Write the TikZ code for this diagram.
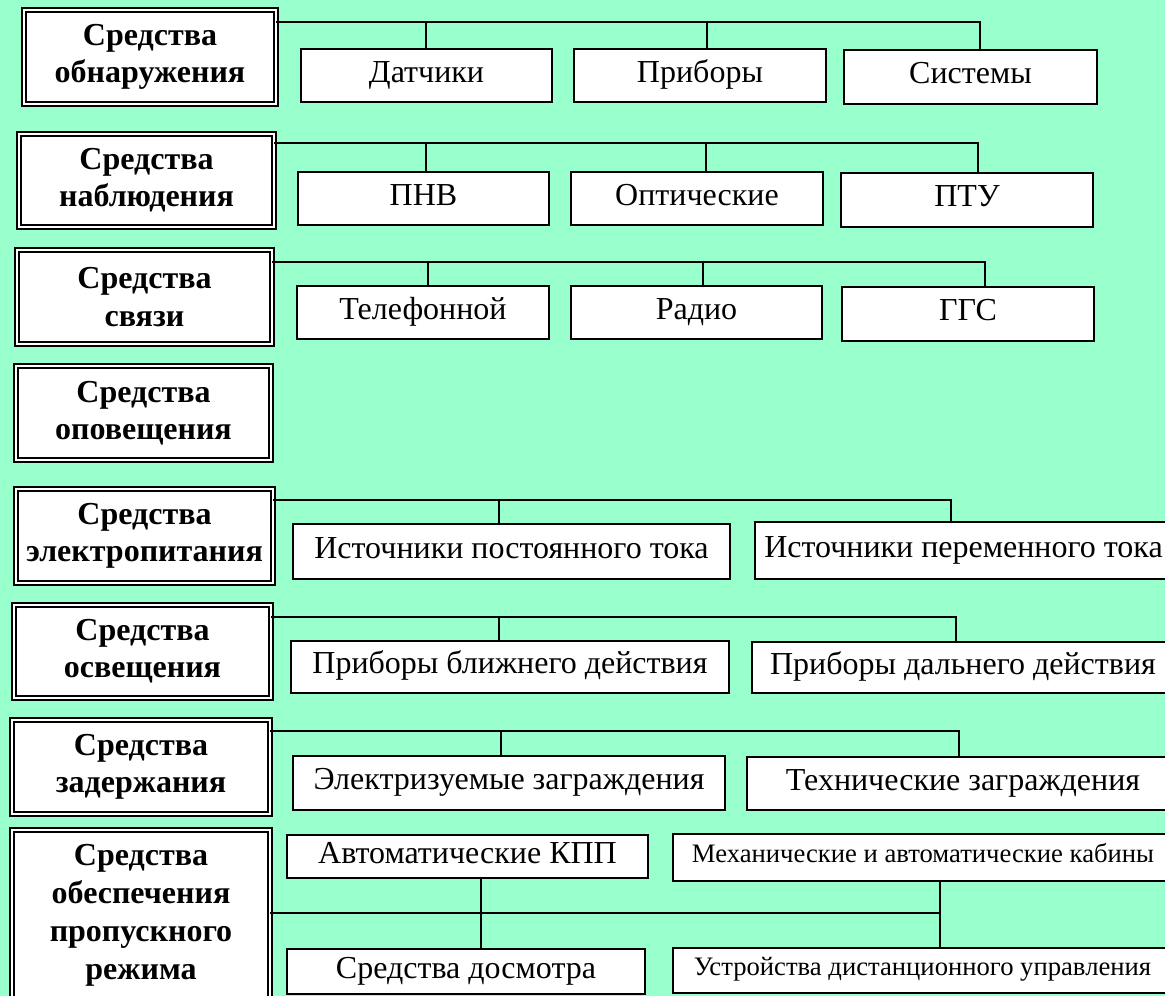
\documentclass[tikz,border=0pt]{standalone}
\usepackage{fontspec}
\setmainfont{Liberation Serif}
\definecolor{mint}{RGB}{153,255,204}
\begin{document}
\begin{tikzpicture}[x=0.75pt,y=-0.75pt,
  corners/.style n args={4}{minimum width={(#3-#1)*0.75pt}, minimum height={(#4-#2)*0.75pt},
    at={({(#1+#3)/2},{(#2+#4)/2})}},
  lbox/.style={draw, line width=1.5pt, double=white, double distance=1.5pt, fill=white,
    inner sep=0pt, outer sep=0pt, align=center,
    font=\bfseries\fontsize{24}{28}\selectfont},
  cbox/.style={draw, line width=1.5pt, fill=white, inner sep=0pt, outer sep=0pt,
    text height=16pt, text depth=6pt, font=\fontsize{24}{28}\selectfont},
  sbox/.style={cbox, text height=13pt, text depth=5pt, font=\fontsize{20}{24}\selectfont},
  wire/.style={line width=1pt}]
\useasboundingbox (0,0) rectangle (1165,996);
\clip (0,0) rectangle (1165,996);
\fill[mint] (0,0) rectangle (1165,996);

% left category boxes
\node[lbox, corners={24}{10}{276}{104}] (b1) {Средства\\обнаружения};
\node[lbox, corners={19}{134}{274}{227}] (b2) {Средства\\наблюдения};
\node[lbox, corners={17}{250}{272}{344}] (b3) {Средства\\связи};
\node[lbox, corners={16}{366}{271}{460}] (b4) {Средства\\оповещения};
\node[lbox, corners={16}{489}{273}{583}] (b5) {Средства\\электропитания};
\node[lbox, corners={14}{605}{271}{698}] (b6) {Средства\\освещения};
\node[lbox, corners={12}{720}{270}{814}] (b7) {Средства\\задержания};
\node[lbox, corners={12}{830}{270}{1000}, font=\bfseries\fontsize{24}{28.5}\selectfont] (b8)
  {Средства\\обеспечения\\пропускного\\режима};

% child boxes
\node[cbox, corners={301}{49}{552}{102}] (c11) {Датчики};
\node[cbox, corners={574}{49}{826}{102}] (c12) {Приборы};
\node[cbox, corners={844}{50}{1097}{104}] (c13) {Системы};

\node[cbox, corners={298}{172}{549}{225}] (c21) {ПНВ};
\node[cbox, corners={571}{172}{823}{225}] (c22) {Оптические};
\node[cbox, corners={841}{173}{1093}{227}] (c23) {ПТУ};

\node[cbox, corners={297}{286}{549}{339}] (c31) {Телефонной};
\node[cbox, corners={571}{286}{822}{339}] (c32) {Радио};
\node[cbox, corners={842}{287}{1094}{341}] (c33) {ГГС};

\node[cbox, corners={293}{524}{730}{579}] (c51) {Источники постоянного тока};
\node[cbox, corners={755}{522}{1172}{579}] (c52) {Источники переменного тока};

\node[cbox, corners={291}{641}{729}{693}] (c61) {Приборы ближнего действия};
\node[cbox, corners={752}{642}{1174}{693}] (c62) {Приборы дальнего действия};

\node[cbox, corners={293}{756}{725}{810}] (c71) {Электризуемые заграждения};
\node[cbox, corners={747}{757}{1179}{810}] (c72) {Технические заграждения};

\node[cbox, corners={287}{835}{648}{878}] (c81) {Автоматические КПП};
\node[sbox, corners={673}{834}{1173}{881}] (c82) {Механические и автоматические кабины};
\node[cbox, corners={287}{949}{645}{994}] (c83) {Средства досмотра};
\node[sbox, corners={673}{948}{1172}{993}] (c84) {Устройства дистанционного управления};

% bus coordinates
\coordinate (h1) at (980,22);  \coordinate (d11) at (426,22);  \coordinate (d12) at (707,22);
\coordinate (h2) at (978,143); \coordinate (d21) at (426,143); \coordinate (d22) at (706,143);
\coordinate (h3) at (985,262); \coordinate (d31) at (428,262); \coordinate (d32) at (703,262);
\coordinate (h5) at (951,500); \coordinate (d51) at (499,500);
\coordinate (h6) at (956,617); \coordinate (d61) at (499,617);
\coordinate (h7) at (959,731); \coordinate (d71) at (501,731);
\coordinate (h8) at (940,913); \coordinate (v81) at (481,913);

% connectors
\draw[wire] (b1.east |- h1) -- (h1) -- (h1 |- c13.north);
\draw[wire] (d11) -- (d11 |- c11.north);
\draw[wire] (d12) -- (d12 |- c12.north);

\draw[wire] (b2.east |- h2) -- (h2) -- (h2 |- c23.north);
\draw[wire] (d21) -- (d21 |- c21.north);
\draw[wire] (d22) -- (d22 |- c22.north);

\draw[wire] (b3.east |- h3) -- (h3) -- (h3 |- c33.north);
\draw[wire] (d31) -- (d31 |- c31.north);
\draw[wire] (d32) -- (d32 |- c32.north);

\draw[wire] (b5.east |- h5) -- (h5) -- (h5 |- c52.north);
\draw[wire] (d51) -- (d51 |- c51.north);

\draw[wire] (b6.east |- h6) -- (h6) -- (h6 |- c62.north);
\draw[wire] (d61) -- (d61 |- c61.north);

\draw[wire] (b7.east |- h7) -- (h7) -- (h7 |- c72.north);
\draw[wire] (d71) -- (d71 |- c71.north);

\draw[wire] (b8.east |- h8) -- (h8);
\draw[wire] (v81 |- c81.south) -- (v81 |- c83.north);
\draw[wire] (h8 |- c82.south) -- (h8 |- c84.north);
\end{tikzpicture}
\end{document}
